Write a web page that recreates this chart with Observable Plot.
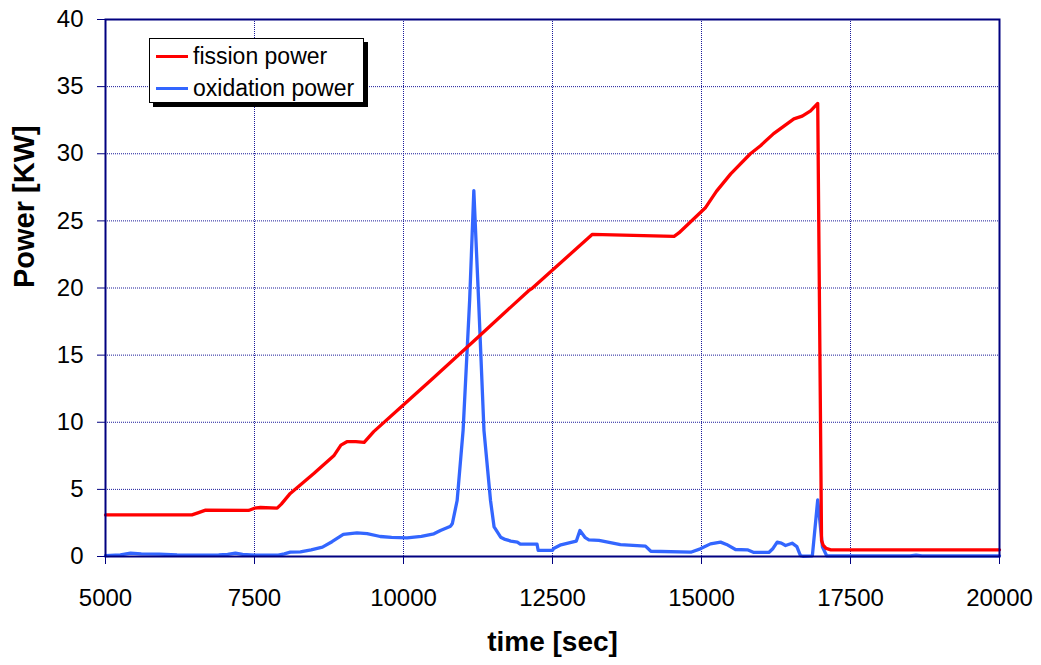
<!DOCTYPE html>
<html>
<head>
<meta charset="utf-8">
<script src="https://cdn.jsdelivr.net/npm/d3@7"></script>
<script src="https://cdn.jsdelivr.net/npm/@observablehq/plot@0.6"></script>
<style>
  html, body { margin: 0; padding: 0; background: #fff; }
  #wrap { position: relative; width: 1041px; height: 665px; font-family: "Liberation Sans", Arial, sans-serif; }
  #legend { position: absolute; left: 149px; top: 38px; width: 213px; height: 63px; border: 1px solid #000; background: #fff; box-shadow: 4px 4px 0 #000; }
  .row { position: absolute; left: 0; height: 32px; line-height: 32px; font-size: 23px; color: #000; white-space: nowrap; }
  .swatch { position: absolute; left: 6px; width: 32px; height: 3px; top: 15px; }
  .lab { position: absolute; left: 43px; top: 0; }
</style>
</head>
<body>
<div id="wrap"></div>
<script>
// ---- data ----
const fissionTime  = [5000, 6450, 6550, 6680, 7400, 7500, 7600, 7880, 7950, 8100, 8500, 8830, 8950, 9050, 9200, 9340, 9500, 9950, 10500, 11240, 12100, 12150, 13170, 14540, 14620, 15070, 15250, 15490, 15820, 15990, 16210, 16550, 16690, 16830, 16950, 17014, 17040, 17090, 17170, 20000];
const fissionPower = [3.1, 3.1, 3.25, 3.45, 3.43, 3.6, 3.65, 3.6, 3.9, 4.7, 6.2, 7.5, 8.3, 8.55, 8.55, 8.5, 9.3, 11.1, 13.3, 16.3, 19.8, 19.95, 24.0, 23.85, 24.1, 26.0, 27.2, 28.5, 30.0, 30.6, 31.5, 32.6, 32.8, 33.2, 33.75, 1.2, 0.85, 0.6, 0.5, 0.5];

const oxTime  = [5000, 5250, 5420, 5600, 5900, 6200, 6600, 6900, 7050, 7180, 7300, 7500, 7900, 8000, 8100, 8270, 8450, 8640, 8800, 8990, 9220, 9390, 9610, 9800, 10060, 10300, 10510, 10620, 10790, 10820, 10900, 11000, 11110, 11180, 11260, 11350, 11460, 11520, 11630, 11690, 11800, 11910, 11960, 12240, 12260, 12500, 12520, 12640, 12830, 12900, 12960, 13050, 13110, 13280, 13640, 14060, 14150, 14820, 14980, 15150, 15320, 15420, 15570, 15770, 15880, 16130, 16200, 16270, 16340, 16410, 16520, 16600, 16660, 16700, 16860, 16950, 17030, 17100, 18500, 18600, 18700, 20000];
const oxPower = [0.07, 0.12, 0.25, 0.2, 0.18, 0.12, 0.1, 0.12, 0.15, 0.25, 0.15, 0.1, 0.1, 0.2, 0.32, 0.35, 0.5, 0.7, 1.1, 1.64, 1.76, 1.7, 1.49, 1.42, 1.39, 1.5, 1.69, 1.94, 2.26, 2.46, 4.17, 9.4, 19.1, 27.25, 19.1, 9.4, 4.17, 2.2, 1.44, 1.3, 1.15, 1.07, 0.92, 0.92, 0.45, 0.45, 0.6, 0.87, 1.07, 1.15, 1.94, 1.4, 1.24, 1.2, 0.89, 0.77, 0.39, 0.32, 0.57, 0.94, 1.07, 0.9, 0.52, 0.5, 0.3, 0.3, 0.6, 1.07, 1.0, 0.82, 0.99, 0.74, 0.07, 0.02, 0.05, 4.22, 0.7, 0.05, 0.05, 0.1, 0.05, 0.05];

const xTicks = [5000, 7500, 10000, 12500, 15000, 17500, 20000];
const yTicks = [0, 5, 10, 15, 20, 25, 30, 35, 40];
const seriesNames = ["fission power", "oxidation power"];
const seriesColors = ["#ff0000", "#3366ff"];

const fission = fissionTime.map((t, i) => ({t, p: fissionPower[i]}));
const oxidation = oxTime.map((t, i) => ({t, p: oxPower[i]}));

const navy = "#000080";
const chart = Plot.plot({
  width: 1041,
  height: 665,
  marginLeft: 105,
  marginRight: 42,
  marginTop: 19,
  marginBottom: 109,
  style: {fontFamily: "'Liberation Sans', Arial, sans-serif", background: "#fff", color: "#000"},
  x: {domain: [5000, 20000]},
  y: {domain: [0, 40]},
  marks: [
    Plot.gridX(xTicks.slice(1, -1), {stroke: "#1a1a9a", strokeOpacity: 1, strokeDasharray: "1,1"}),
    Plot.gridY(yTicks.slice(1, -1), {stroke: "#1a1a9a", strokeOpacity: 1, strokeDasharray: "1,1"}),
    Plot.line(oxidation, {x: "t", y: "p", stroke: seriesColors[1], strokeWidth: 3.3}),
    Plot.line(fission, {x: "t", y: "p", stroke: seriesColors[0], strokeWidth: 3.3}),
    Plot.frame({stroke: navy, strokeWidth: 2}),
    Plot.axisX(xTicks, {tickSize: 8, tickPadding: 24, fontSize: 24, stroke: navy, fill: "#000", tickFormat: d => String(d), label: null}),
    Plot.axisY(yTicks, {tickSize: 8, tickPadding: 14, fontSize: 24, stroke: navy, fill: "#000", tickFormat: d => String(d), label: null}),
    Plot.text(["time [sec]"], {frameAnchor: "bottom", dy: 94, fontSize: 28, fontWeight: "bold", fill: "#000"}),
    Plot.text(["Power [KW]"], {frameAnchor: "left", dx: -81, rotate: -90, fontSize: 29, fontWeight: "bold", fill: "#000"})
  ]
});
const wrap = document.getElementById("wrap");
wrap.appendChild(chart);

const legend = document.createElement("div");
legend.id = "legend";
seriesNames.forEach((name, i) => {
  const row = document.createElement("div");
  row.className = "row";
  row.style.top = (1 + i * 32) + "px";
  row.style.width = "100%";
  const sw = document.createElement("div");
  sw.className = "swatch";
  sw.style.background = seriesColors[i];
  const lab = document.createElement("span");
  lab.className = "lab";
  lab.textContent = name;
  row.appendChild(sw);
  row.appendChild(lab);
  legend.appendChild(row);
});
wrap.appendChild(legend);
</script>
</body>
</html>
